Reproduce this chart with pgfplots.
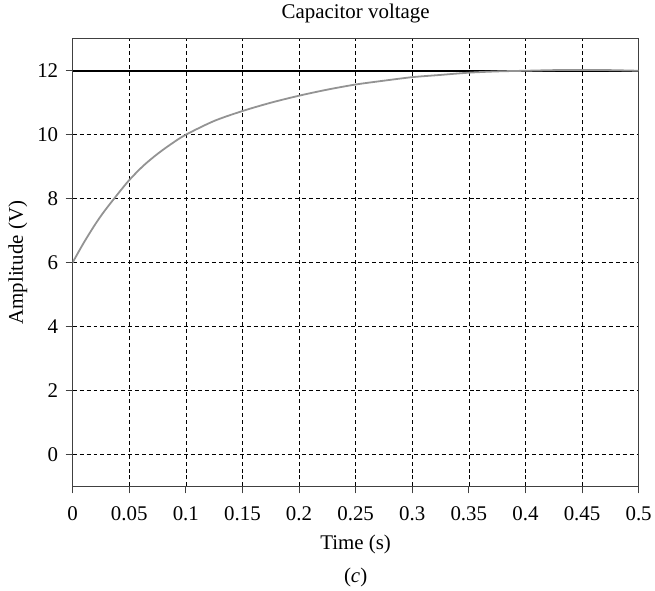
\documentclass[border=0pt]{standalone}
\usepackage{fontspec}
\setmainfont{Liberation Serif}
\usepackage{pgfplots}
\usetikzlibrary{calc}
\pgfplotsset{compat=1.18}
\begin{document}
\begin{tikzpicture}
\begin{axis}[
  scale only axis,
  width=569pt, height=450pt,
  xmin=0, xmax=0.5, ymin=-1, ymax=13,
  xtick={0,0.05,...,0.5}, ytick={0,2,...,12},
  tick align=outside, tick pos=left,
  major tick length=7pt,
  axis line style={draw=black!75, line width=1pt},
  every tick/.style={draw=black!75, line width=1pt},
  grid=major,
  major grid style={black, line width=0.6pt, dash pattern=on 4pt off 3pt},
  /pgf/number format/assume math mode=true,
  ticklabel style={font=\fontsize{21}{25}\selectfont},
  xticklabel style={/pgf/number format/fixed, anchor=base, yshift=-27pt},
  yticklabel style={xshift=-4pt},
  label style={font=\fontsize{21}{25}\selectfont},
  title style={font=\fontsize{21}{25}\selectfont, at={(axis description cs:0.5,1)}, anchor=base, yshift=14pt},
  title={Capacitor voltage},
  xlabel={Time (s)},
  xlabel style={at={(axis description cs:0.5,0)}, anchor=base, yshift=-63pt},
  ylabel={Amplitude (V)},
  ylabel style={at={(axis description cs:0,0.5)}, anchor=center, yshift=55pt},
]
\addplot[black, line width=2pt] coordinates {(0,12) (0.5,12)};
\addplot[gray!85, line width=1.8pt, smooth] coordinates {
(0,6.0) (0.005,6.32) (0.01,6.63) (0.015,6.92) (0.02,7.20) (0.025,7.46)
(0.03,7.70) (0.04,8.15) (0.05,8.58) (0.0625,9.03) (0.075,9.40)
(0.0875,9.72) (0.1,10.0) (0.125,10.43) (0.15,10.74) (0.175,11.0)
(0.2,11.22) (0.225,11.41) (0.25,11.57) (0.275,11.69) (0.3,11.80)
(0.325,11.87) (0.35,11.94) (0.375,11.98) (0.4,12.0) (0.425,12.02)
(0.45,12.025) (0.475,12.02) (0.5,12.0)
};
\end{axis}
\node[font=\fontsize{21}{25}\selectfont, anchor=base] at ($(current axis.south)+(0,-97pt)$) {(\textit{c})};
\path ($(current axis.south west)+(-73pt,-105pt)$) rectangle ($(current axis.north east)+(13pt,39pt)$);
\end{tikzpicture}
\end{document}
